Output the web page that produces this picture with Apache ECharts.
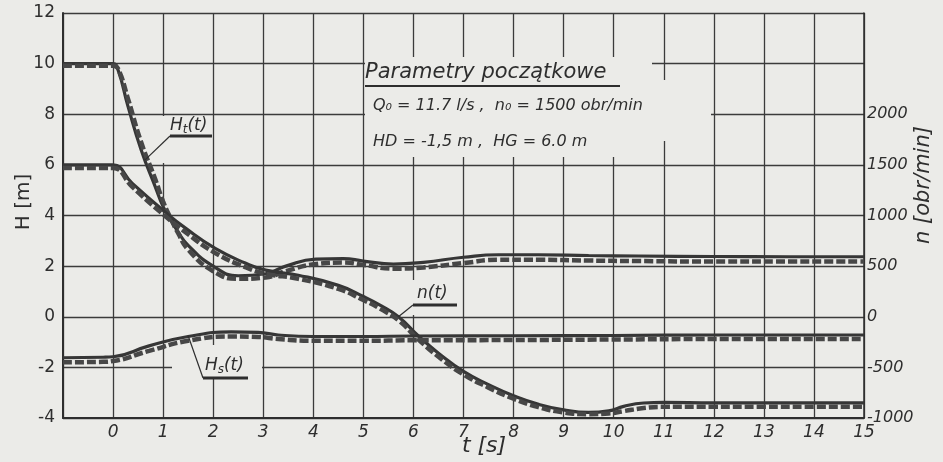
<!DOCTYPE html>
<html>
<head>
<meta charset="UTF-8">
<title>Parametry początkowe</title>
<script src="https://cdn.jsdelivr.net/npm/echarts@6/dist/echarts.min.js"></script>
<style>
  body { margin: 0; background: #ebebe8; }
  #chart { width: 943px; height: 462px; }
</style>
</head>
<body>
<div id="chart"></div>
<script>
// czas [s] i wartości
var htTime = [-1, -0.2, 0, 0.1, 0.3, 0.56, 0.84, 1.0, 1.16, 1.3, 1.5, 2.0, 2.5, 3.05, 3.45, 4.05, 4.6, 5.0, 5.6, 6.2, 7.0, 7.7, 8.5, 9.5, 10.5, 12, 13.5, 15];
var htSolid = [10, 10, 10, 9.75, 8.3, 6.6, 5.15, 4.35, 3.8, 3.35, 2.82, 2.0, 1.62, 1.7, 2.0, 2.28, 2.3, 2.2, 2.08, 2.15, 2.35, 2.45, 2.45, 2.42, 2.4, 2.38, 2.37, 2.37];
var htDashed = [9.92, 9.92, 9.92, 9.8, 8.6, 6.9, 5.45, 4.55, 3.85, 3.3, 2.65, 1.8, 1.5, 1.55, 1.8, 2.08, 2.14, 2.05, 1.9, 1.95, 2.12, 2.25, 2.25, 2.22, 2.2, 2.18, 2.18, 2.18];

var nTime = [-1, -0.2, 0, 0.38, 0.98, 1.46, 2.04, 2.64, 3.05, 3.7, 4.5, 5.0, 5.35, 5.7, 6.1, 6.5, 7.0, 7.5, 8.0, 8.5, 9.0, 9.5, 9.9, 10.2, 10.6, 11, 12, 13, 14, 15];
var nSolid = [1500, 1500, 1500, 1320, 1060, 870, 675, 530, 460, 410, 310, 200, 110, 0, -190, -360, -540, -670, -780, -865, -920, -945, -930, -885, -852, -845, -850, -850, -850, -850];
var nDashed = [1470, 1470, 1470, 1285, 1020, 830, 630, 490, 425, 375, 275, 165, 75, -35, -225, -395, -570, -700, -810, -893, -945, -962, -955, -932, -902, -890, -890, -890, -890, -890];

var hsTime = [-1, -0.2, 0, 0.72, 1.5, 2.36, 2.9, 3.3, 4, 5, 6, 8, 10, 12, 15];
var hsSolid = [-1.62, -1.6, -1.58, -1.15, -0.78, -0.6, -0.62, -0.72, -0.78, -0.78, -0.76, -0.75, -0.74, -0.72, -0.72];
var hsDashed = [-1.8, -1.78, -1.75, -1.35, -0.95, -0.78, -0.8, -0.88, -0.95, -0.95, -0.93, -0.92, -0.9, -0.88, -0.88];

var hTicks = [-4, 12, 2];
var nTicks = [-1000, 3000, 500];
var nLabelMax = 2000;

var ink = '#2e2e2e';
var paper = '#ebebe8';

function pairs(xs, ys) {
    var out = [];
    for (var i = 0; i < xs.length; i++) out.push([xs[i], ys[i]]);
    return out;
}

function curve(name, xs, ys, axis, dashed) {
    return {
        name: name,
        type: 'line',
        yAxisIndex: axis,
        data: pairs(xs, ys),
        smooth: 0.5,
        showSymbol: false,
        silent: true,
        lineStyle: dashed
            ? { color: '#474747', width: 4.5, type: [9, 3] }
            : { color: '#363636', width: 3.2 }
    };
}

var chart = echarts.init(document.getElementById('chart'));

// łaty papieru, gdzie siatka jest przerwana przez opisy
var patches = [
    [365, 57, 287, 100],
    [652, 80, 59, 61],
    [160, 116, 8, 47],
    [172, 345, 90, 34],
    [405, 280, 55, 35]
];

var option = {
    backgroundColor: paper,
    animation: false,
    grid: { left: 63, right: 79, top: 13, bottom: 44 },
    xAxis: {
        type: 'value', min: -1, max: 15, interval: 1,
        axisLine: { onZero: false, lineStyle: { color: ink, width: 2 } },
        axisTick: { show: false },
        splitLine: { lineStyle: { color: '#3b3b3b', width: 1.3 } },
        axisLabel: {
            color: ink, fontSize: 17, fontStyle: 'italic', fontFamily: 'DejaVu Sans', margin: 6,
            formatter: function (v) { return v < 0 ? '' : String(v); }
        }
    },
    yAxis: [{
        type: 'value', min: hTicks[0], max: hTicks[1], interval: hTicks[2],
        axisLine: { show: true, onZero: false, lineStyle: { color: ink, width: 2 } },
        axisTick: { show: false },
        splitLine: { lineStyle: { color: '#3b3b3b', width: 1.3 } },
        axisLabel: { color: ink, fontSize: 17, fontFamily: 'DejaVu Sans', margin: 8 }
    }, {
        type: 'value', min: nTicks[0], max: nTicks[1], interval: nTicks[2],
        position: 'right',
        axisLine: { show: true, onZero: false, lineStyle: { color: ink, width: 1.5 } },
        axisTick: { show: false },
        splitLine: { show: false },
        axisLabel: {
            color: ink, fontSize: 16, fontStyle: 'italic', fontFamily: 'DejaVu Sans', margin: 3,
            formatter: function (v) { return v > nLabelMax ? '' : String(v); }
        }
    }],
    series: [
        curve('Ht', htTime, htSolid, 0, false),
        curve('Ht obl.', htTime, htDashed, 0, true),
        curve('n', nTime, nSolid, 1, false),
        curve('n obl.', nTime, nDashed, 1, true),
        curve('Hs', hsTime, hsSolid, 0, false),
        curve('Hs obl.', hsTime, hsDashed, 0, true)
    ]
};
chart.setOption(option);

// kotwice odnośników na krzywych (współrzędne danych)
var aHt = chart.convertToPixel({ xAxisIndex: 0, yAxisIndex: 0 }, [0.64, 6.2]);
var aHs = chart.convertToPixel({ xAxisIndex: 0, yAxisIndex: 0 }, [1.5, -0.75]);
var aN = chart.convertToPixel({ xAxisIndex: 0, yAxisIndex: 0 }, [5.7, 0]);

var txt = { fill: ink, fontFamily: 'DejaVu Sans', fontStyle: 'italic' };
function label(x, y, parts, size) {
    return {
        type: 'text', x: x, y: y, z: 10,
        style: Object.assign({}, txt, {
            text: parts,
            fontSize: size,
            rich: {
                m: { fontSize: size, fontStyle: 'italic', fontFamily: 'DejaVu Sans', fill: ink, color: ink },
                s: { fontSize: size * 0.7, fontStyle: 'italic', fontFamily: 'DejaVu Sans', fill: ink, color: ink, padding: [8, 0, 0, 0] }
            }
        })
    };
}
function seg(x1, y1, x2, y2, w) {
    return { type: 'line', z: 10, shape: { x1: x1, y1: y1, x2: x2, y2: y2 }, style: { stroke: ink, lineWidth: w } };
}

var g = [];
patches.forEach(function (p) {
    g.push({ type: 'rect', z: 1, shape: { x: p[0], y: p[1], width: p[2], height: p[3] }, style: { fill: paper } });
});
g.push(
    // opis parametrów
    { type: 'text', x: 365, y: 62, z: 10, style: Object.assign({}, txt, { text: 'Parametry początkowe', fontSize: 21 }) },
    seg(365, 86, 620, 86, 2),
    { type: 'text', x: 373, y: 98, z: 10, style: Object.assign({}, txt, { text: 'Q₀ = 11.7 l/s ,  n₀ = 1500 obr/min', fontSize: 16 }) },
    { type: 'text', x: 373, y: 134, z: 10, style: Object.assign({}, txt, { text: 'HD = -1,5 m ,  HG = 6.0 m', fontSize: 16 }) },
    // odnośniki krzywych
    label(170, 116, '{m|H}{s|t}{m|(t)}', 17),
    seg(170, 136, 212, 136, 3),
    seg(aHt[0], aHt[1], 170, 136, 1.2),
    label(205, 356, '{m|H}{s|s}{m|(t)}', 17),
    seg(203, 378, 248, 378, 3),
    seg(aHs[0], aHs[1], 203, 378, 1.2),
    label(417, 285, '{m|n(t)}', 17),
    seg(413, 305, 457, 305, 3),
    seg(aN[0], aN[1], 413, 305, 1.2),
    // nazwy osi
    { type: 'text', x: 24, y: 202, rotation: Math.PI / 2, z: 10,
      style: Object.assign({}, txt, { text: 'H [m]', fontSize: 20, fontStyle: 'normal', align: 'center', verticalAlign: 'middle' }) },
    { type: 'text', x: 924, y: 185, rotation: Math.PI / 2, z: 10,
      style: Object.assign({}, txt, { text: 'n [obr/min]', fontSize: 21, align: 'center', verticalAlign: 'middle' }) },
    { type: 'text', x: 484, y: 446, z: 10,
      style: Object.assign({}, txt, { text: 't [s]', fontSize: 22, align: 'center', verticalAlign: 'middle' }) }
);
chart.setOption({ graphic: g });
</script>
</body>
</html>
